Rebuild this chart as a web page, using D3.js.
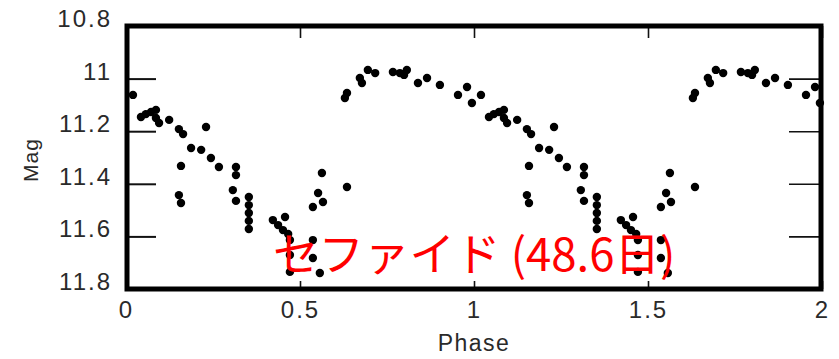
<!DOCTYPE html>
<html>
<head>
<meta charset="utf-8">
<script src="https://cdn.jsdelivr.net/npm/d3@7"></script>
<style>
  body { margin: 0; background: #fff; }
  svg { display: block; }
  .tick text { font-family: "Liberation Sans", Arial, sans-serif; font-size: 24px; fill: #2a2a2a; letter-spacing: 2px; }
</style>
</head>
<body>
<script>
// light curve, one cycle (drawn twice: phase and phase + 1)
const phase = [0.020, 0.043, 0.057, 0.072, 0.086, 0.086, 0.095, 0.124, 0.152, 0.164,
  0.230, 0.187, 0.216, 0.244, 0.267, 0.316, 0.316, 0.158, 0.152, 0.158,
  0.307, 0.316, 0.353, 0.353, 0.353, 0.353, 0.353, 0.422, 0.437, 0.457,
  0.451, 0.466, 0.471, 0.471, 0.471, 0.537, 0.537, 0.557, 0.552, 0.566,
  0.537, 0.563, 0.635, 0.629, 0.635, 0.672, 0.678, 0.695, 0.716, 0.767,
  0.787, 0.799, 0.807, 0.839, 0.865, 0.902, 0.954, 0.980, 0.994];
const mag = [11.062, 11.146, 11.135, 11.127, 11.119, 11.150, 11.169, 11.157, 11.192, 11.211,
  11.184, 11.264, 11.271, 11.302, 11.336, 11.336, 11.367, 11.332, 11.443, 11.473,
  11.424, 11.465, 11.450, 11.481, 11.511, 11.541, 11.572, 11.538, 11.557, 11.526,
  11.576, 11.591, 11.614, 11.671, 11.735, 11.614, 11.682, 11.739, 11.435, 11.469,
  11.488, 11.359, 11.412, 11.074, 11.055, 10.998, 11.017, 10.967, 10.979, 10.975,
  10.979, 10.986, 10.967, 11.017, 10.998, 11.024, 11.062, 11.032, 11.093];
const xTicks = [0, 0.5, 1, 1.5, 2];
const yTicks = [10.8, 11.0, 11.2, 11.4, 11.6, 11.8];
const title = "セファイド (48.6日)";

const W = 839, H = 359;
const svg = d3.select('body').append('svg').attr('width', W).attr('height', H);

const x = d3.scaleLinear().domain([0, 2]).range([126, 822]);
const y = d3.scaleLinear().domain([10.8, 11.8]).range([26, 289]);

const pts = [];
phase.forEach((p, i) => {
  pts.push([p, mag[i]]);
  pts.push([p + 1, mag[i]]);
});

// left axis with labels, ticks pointing in
const gLeft = svg.append('g').attr('transform', `translate(${x(0)},0)`)
  .call(d3.axisLeft(y).tickValues(yTicks).tickSize(-30).tickPadding(14)
    .tickFormat(d => d3.format('~g')(d)));
gLeft.select('.domain').remove();
gLeft.selectAll('.tick line').attr('stroke', '#111').attr('stroke-width', 2);
gLeft.selectAll('.tick text').attr('dy', '0.02em');

const gRight = svg.append('g').attr('transform', `translate(${x(2)},0)`)
  .call(d3.axisRight(y).tickValues(yTicks).tickSize(-33).tickFormat(''));
gRight.select('.domain').remove();
gRight.selectAll('.tick line').attr('stroke', '#111').attr('stroke-width', 1.6);

const gBottom = svg.append('g').attr('transform', `translate(0,${y(11.8)})`)
  .call(d3.axisBottom(x).tickValues(xTicks).tickSize(-8).tickPadding(12)
    .tickFormat(d => d3.format('~g')(d)));
gBottom.select('.domain').remove();
gBottom.selectAll('.tick line').attr('stroke', '#111').attr('stroke-width', 1.6);

const gTop = svg.append('g').attr('transform', `translate(0,${y(10.8)})`)
  .call(d3.axisTop(x).tickValues(xTicks).tickSize(-12).tickFormat(''));
gTop.select('.domain').remove();
gTop.selectAll('.tick line').attr('stroke', '#111').attr('stroke-width', 1.6);

// thick frame
svg.append('rect')
  .attr('x', x(0) + 1).attr('y', y(10.8))
  .attr('width', x(2) - x(0) - 2).attr('height', y(11.8) - y(10.8))
  .attr('fill', 'none').attr('stroke', '#000').attr('stroke-width', 5);

svg.append('g').selectAll('circle').data(pts).join('circle')
  .attr('cx', d => x(d[0])).attr('cy', d => y(d[1]))
  .attr('r', 4.2).attr('fill', '#000');

svg.append('text')
  .attr('x', (x(0) + x(2)) / 2).attr('y', 351)
  .attr('text-anchor', 'middle')
  .style('font-family', '"Liberation Sans", Arial, sans-serif')
  .style('font-size', '23px').style('letter-spacing', '1.5px').style('fill', '#2a2a2a')
  .text('Phase');

svg.append('text')
  .attr('transform', 'translate(38,160) rotate(-90)')
  .attr('text-anchor', 'middle')
  .style('font-family', '"Liberation Sans", Arial, sans-serif')
  .style('font-size', '21px').style('letter-spacing', '1px').style('fill', '#2a2a2a')
  .text('Mag');

svg.append('text')
  .attr('x', 273).attr('y', 271)
  .style('font-family', '"Noto Sans CJK JP", sans-serif')
  .style('font-size', '45.5px').style('fill', '#ff0000')
  .text(title);
</script>
</body>
</html>
